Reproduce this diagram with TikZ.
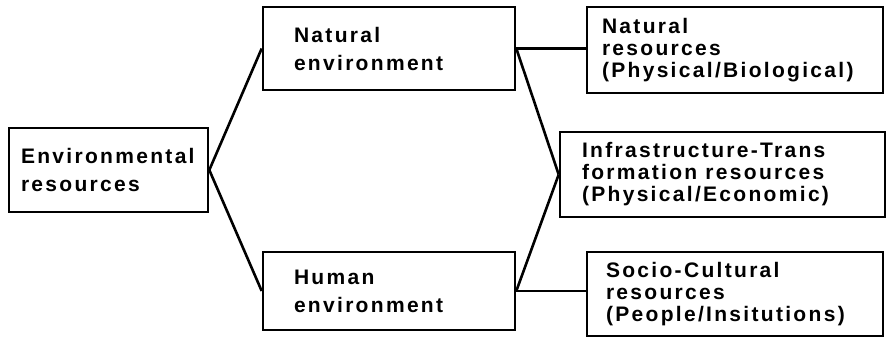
\documentclass[tikz,border=0pt]{standalone}
\usepackage{fontspec}
\setmainfont{Liberation Sans Bold}[LetterSpace=11]
\begin{document}
\begin{tikzpicture}[x=1pt, y=-1pt, line width=2.6pt]
        \tikzstyle{box}=[draw, inner sep=0pt]
        \tikzstyle{txt}=[anchor=west, align=left, inner sep=0pt, font=\fontsize{21}{22}\selectfont]
        \tikzstyle{txt2}=[txt, font=\fontsize{21}{28}\selectfont]
        \useasboundingbox (0,0) rectangle (888,338);
        % Level 1
        \node[box, minimum width=199, minimum height=84] (env) at (108.5,170) {};
        \node[txt2] (env-t) at ([xshift=12]env.west) {Environmental\\resources};
        % Level 2
        \node[box, minimum width=252, minimum height=83] (natenv) at (389,48.5) {};
        \node[txt2] (natenv-t) at ([xshift=31]natenv.west) {Natural\\environment};
        \node[box, minimum width=252, minimum height=78] (humenv) at (389,291) {};
        \node[txt2] (humenv-t) at ([xshift=31]humenv.west) {Human\\environment};
        % Level 3
        \node[box, minimum width=296, minimum height=86] (natres) at (735,50) {};
        \node[txt] (natres-t) at ([xshift=15]natres.west) {Natural\\resources\\(Physical/Biological)};
        \node[box, minimum width=325, minimum height=85] (infra) at (722.5,174.5) {};
        \node[txt] (infra-t) at ([xshift=22]infra.west) {Infrastructure-Trans\\formation resources\\(Physical/Economic)};
        \node[box, minimum width=296, minimum height=84] (socio) at (735,294) {};
        \node[txt] (socio-t) at ([xshift=19]socio.west) {Socio-Cultural\\resources\\(People/Insitutions)};
        % links
        \draw (env.east) -- (natenv.west);
        \draw (env.east) -- (humenv.west);
        \draw (natenv.east) -- (natenv.east -| natres.west);
        \draw (natenv.east) -- (infra.west);
        \draw (humenv.east) -- (infra.west);
        \draw (humenv.east) -- (humenv.east -| socio.west);
    \end{tikzpicture}
\end{document}
